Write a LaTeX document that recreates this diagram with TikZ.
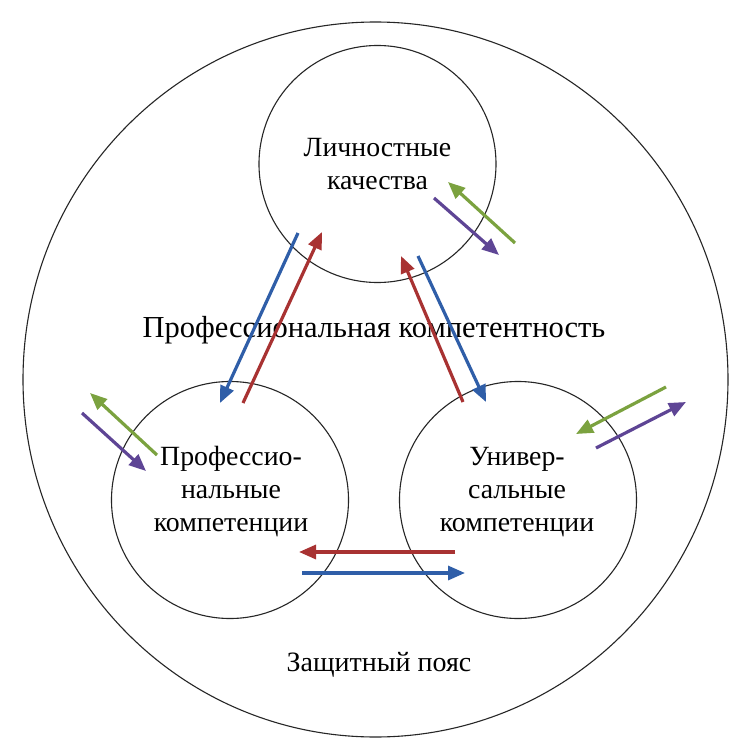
\documentclass[tikz,border=0pt]{standalone}
\usepackage{fontspec}
\setmainfont{Liberation Serif}
\usetikzlibrary{arrows.meta,shapes.geometric}
\definecolor{cblue}{HTML}{2F5EA8}
\definecolor{cred}{HTML}{A83232}
\definecolor{cgreen}{HTML}{7BA23F}
\definecolor{cpurple}{HTML}{5E4595}
\tikzset{
  ring/.style={draw=black!85, line width=1.1pt, circle, inner sep=0pt, minimum size=237pt},
  belt/.style={draw=black!85, line width=1.1pt, ellipse, inner sep=0pt, minimum width=705pt, minimum height=715pt},
  lbl/.style={align=center, inner sep=0pt, font=\fontsize{27.8}{33}\selectfont},
  biglbl/.style={align=center, inner sep=0pt, font=\fontsize{30.5}{33}\selectfont},
  beltlbl/.style={align=center, inner sep=0pt, font=\fontsize{28}{33}\selectfont},
  arr/.style={line width=3.2pt, -{Triangle[length=17pt,width=14pt]}},
}
\begin{document}
\begin{tikzpicture}[x=1pt,y=-1pt]
\useasboundingbox (0,0) rectangle (748,747);
\fill[white] (0,0) rectangle (748,747);
\node[belt] (belt) at (375.5,379.5) {};
\node[ring] (top) at (377.5,164) {};
\node[ring] (left) at (230,500) {};
\node[ring] (right) at (518,500) {};
\node[lbl] (ttop) at (377.5,164) {Личностные\\качества};
\node[lbl] (tleft) at (231,492) {Профессио-\\нальные\\компетенции};
\node[lbl] (tright) at (517,492) {Универ-\\сальные\\компетенции};
\node[biglbl] (tmid) at (374,330) {Профессиональная компетентность};
\node[beltlbl] (tbelt) at (379,665) {Защитный пояс};
% endpoints
\coordinate (b1s) at (298,233); \coordinate (b1e) at (220,403);
\coordinate (r1s) at (243,403); \coordinate (r1e) at (322,232);
\coordinate (r2s) at (463,402); \coordinate (r2e) at (401,256);
\coordinate (b2s) at (418,256); \coordinate (b2e) at (486,402);
\coordinate (r3s) at (455,552); \coordinate (r3e) at (299,552);
\coordinate (b3s) at (302,573); \coordinate (b3e) at (465,573);
\coordinate (g1s) at (515,243); \coordinate (g1e) at (448,182);
\coordinate (p1s) at (434,198); \coordinate (p1e) at (499,255);
\coordinate (g2s) at (157,455); \coordinate (g2e) at (90,393);
\coordinate (p2s) at (82,413); \coordinate (p2e) at (146,471);
\coordinate (g3s) at (666,387); \coordinate (g3e) at (576,434);
\coordinate (p3s) at (596,448); \coordinate (p3e) at (686,402);
\draw[arr,cblue] (b1s) -- (b1e);
\draw[arr,cred] (r1s) -- (r1e);
\draw[arr,cred] (r2s) -- (r2e);
\draw[arr,cblue] (b2s) -- (b2e);
\draw[arr,cred] (r3s) -- (r3e);
\draw[arr,cblue] (b3s) -- (b3e);
\draw[arr,cgreen] (g1s) -- (g1e);
\draw[arr,cpurple] (p1s) -- (p1e);
\draw[arr,cgreen] (g2s) -- (g2e);
\draw[arr,cpurple] (p2s) -- (p2e);
\draw[arr,cgreen] (g3s) -- (g3e);
\draw[arr,cpurple] (p3s) -- (p3e);
\end{tikzpicture}
\end{document}
